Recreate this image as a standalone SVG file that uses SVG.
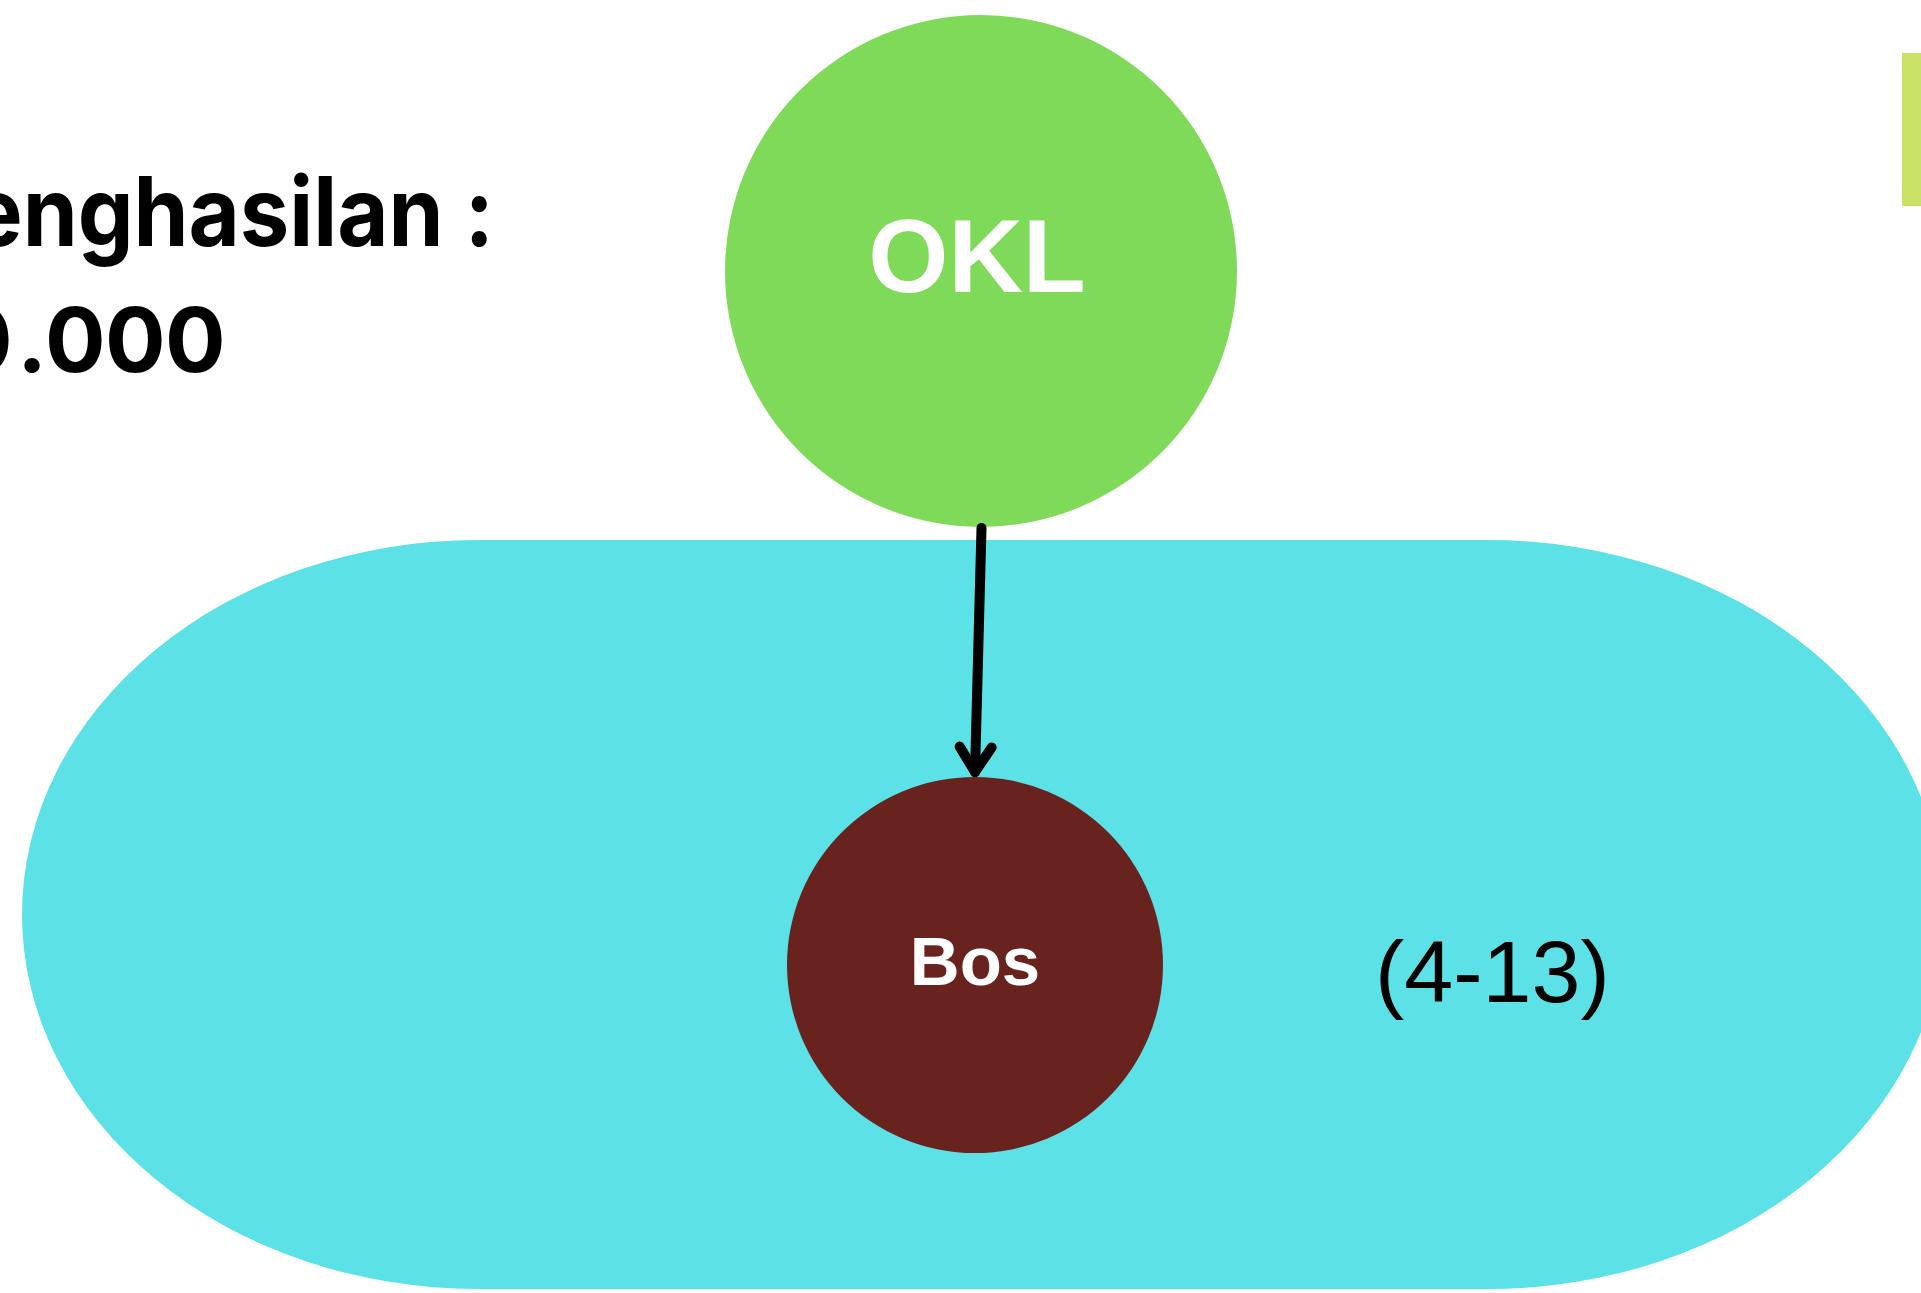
<svg xmlns="http://www.w3.org/2000/svg" width="1921" height="1293" viewBox="0 0 1921 1293">
  <defs>
    <style>
      .lbl { font-family: "Liberation Sans", Arial, sans-serif; font-weight: bold; }
      .side { font-family: Inter, "Liberation Sans", Arial, sans-serif; font-weight: 700; fill: #000000; }
      .white { fill: #FFFFFF; }
      .black { fill: #000000; }
      .conn { stroke: #000000; stroke-width: 10; stroke-linecap: round; fill: none; }
    </style>
    <marker id="chev" markerUnits="userSpaceOnUse" orient="auto" refX="0" refY="0" markerWidth="60" markerHeight="60" viewBox="-40 -30 60 60" overflow="visible">
      <path d="M -25 -16 L 0 0 L -25 16" fill="none" stroke="#000000" stroke-width="10" stroke-linecap="round" stroke-linejoin="round"/>
    </marker>
  </defs>
  <rect width="1921" height="1293" fill="#FFFFFF"/>

  <g id="income-label">
    <text class="side" x="-30" y="246" font-size="96" textLength="524" lengthAdjust="spacingAndGlyphs">enghasilan :</text>
    <text class="side" font-size="90" y="372"><tspan x="-48">0</tspan><tspan x="17">.</tspan><tspan x="45">0</tspan><tspan x="105">0</tspan><tspan x="165">0</tspan></text>
  </g>

  <g id="accent-bar">
    <rect x="1902" y="53" width="19" height="153" fill="#C9E265"/>
  </g>

  <g id="group-area">
    <path d="M 478 540 H 1488 A 456 374.5 0 0 1 1488 1289 H 478 A 456 374.5 0 0 1 478 540 Z" fill="#5CE1E6"/>
    <text x="1375" y="1002" font-family="Liberation Sans, Arial, sans-serif" font-size="88" fill="#000000">(4-13)</text>
  </g>

  <g id="node-okl">
    <circle cx="981" cy="271" r="256" fill="#80DA5A"/>
    <text class="lbl white" x="977" y="292" font-size="103" text-anchor="middle">OKL</text>
  </g>

  <g id="node-bos">
    <circle cx="975" cy="965" r="188" fill="#68231E"/>
    <text class="lbl white" x="975" y="985" font-size="69" text-anchor="middle">Bos</text>
  </g>

  <g id="connectors">
    <line class="conn" x1="981.5" y1="528" x2="975" y2="772" marker-end="url(#chev)"/>
  </g>
</svg>
